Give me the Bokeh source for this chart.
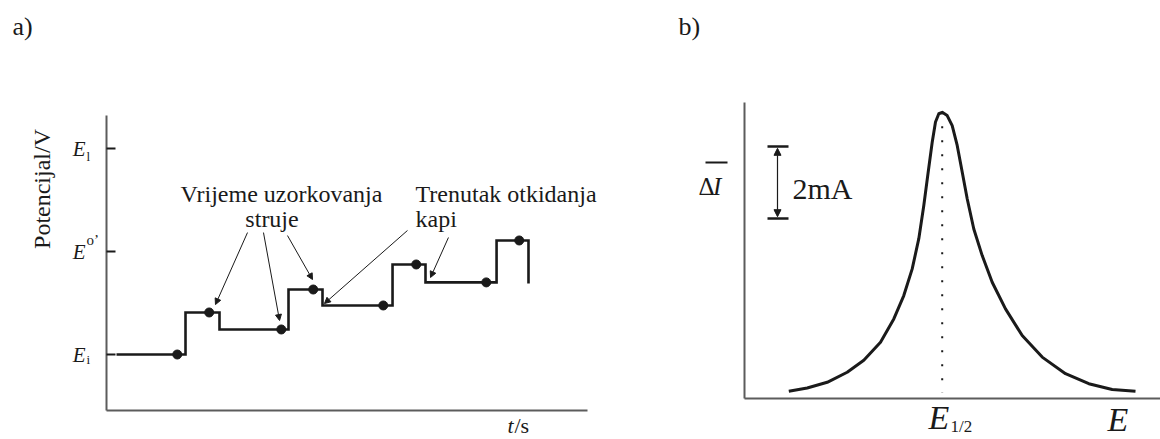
import math
from bokeh.plotting import figure
from bokeh.layouts import row
from bokeh.models import Label, Arrow, NormalHead, FixedTicker
from bokeh.embed import file_html
from bokeh.resources import INLINE

# ---------------- data: panel a (potential staircase vs time) ----------------
drop_times = [1, 2, 3, 4]                 # drop detachment times (periods)
pulse_starts = [0.67, 1.67, 2.68, 3.69]   # start of each pulse
base_levels = [0.0, 0.243, 0.476, 0.70]   # staircase potential (E_i = 0, E0' = 1, E_l = 2)
pulse_levels = [0.408, 0.631, 0.874, 1.107]
end_level = 0.69
sample_base_t = [0.59, 1.60, 2.59, 3.59]   # current sampling before pulse
sample_pulse_t = [0.90, 1.91, 2.91, 3.91]  # current sampling at end of pulse
potential_ticks = [0, 1, 2]
potential_tick_labels = ["E", "E", "E"]
potential_tick_subs = ["i", "o\u2019", "l"]
t_axis = (-0.097, 4.573)
E_axis = (-0.544, 2.320)

# ---------------- data: panel b (differential pulse peak) ----------------
E_mV = [-153.4, -135, -115, -95, -78.4, -61.7, -48.4, -38.4, -30, -23.4, -18.4, -14,
        -10, -6.7, -3.4, 0, 5, 10, 15, 20, 25, 31.6, 40, 50, 63.3, 80, 100, 123.3,
        146.6, 170, 193.3]
dI_mA = [0.20, 0.29, 0.45, 0.73, 1.06, 1.56, 2.21, 2.86, 3.60, 4.44, 5.36, 6.29,
         7.12, 7.68, 7.91, 7.95, 7.86, 7.58, 7.03, 6.29, 5.55, 4.71, 3.97, 3.23,
         2.49, 1.75, 1.15, 0.69, 0.41, 0.25, 0.20]
E_half = 0.0
scale_top, scale_bottom = 7.0, 5.0   # 2 mA scale bar
Eb_axis = (-197.7, 218.3)
I_axis = (0.0, 8.222)

SERIF = "Liberation Serif"
INK = "#1a1a1a"
AXIS = "#5c5c5c"
PX_A = 103.0   # pixels per data unit (y) in panel a
PX_B = 36.0    # pixels per data unit (y) in panel b


def lab(p, x, y, text, size, pxu, style="normal", align="left", baseline="alphabetic", angle=0.0):
    s = float(size.replace("px", ""))
    if baseline == "alphabetic":
        y = y + 0.35 * s / pxu   # compensate baseline placement
    p.add_layout(Label(x=x, y=y, text=text, text_font=SERIF, text_font_size=size,
                       text_font_style=style, text_color=INK, text_align=align,
                       text_baseline=baseline, angle=angle))


def make_fig(width, xr, yr, x_loc, y_loc, xb, yb):
    p = figure(width=width, height=439, x_range=xr, y_range=yr,
               output_backend="svg", toolbar_location=None,
               min_border_left=0, min_border_right=0, min_border_top=0, min_border_bottom=0)
    p.outline_line_color = None
    p.grid.visible = False
    p.background_fill_color = "white"
    p.border_fill_color = "white"
    p.xaxis.fixed_location = x_loc
    p.yaxis.fixed_location = y_loc
    p.xaxis.bounds = xb
    p.yaxis.bounds = yb
    for ax in (p.xaxis, p.yaxis):
        ax.axis_line_color = AXIS
        ax.axis_line_width = 2
        ax.minor_tick_line_color = None
        ax.ticker = FixedTicker(ticks=[])
    return p


# ---------------- panel a ----------------
pa = make_fig(640, (-1.1262, 5.0874), (-0.8252, 3.4369), E_axis[0], t_axis[0], t_axis, E_axis)
pa.yaxis.ticker = FixedTicker(ticks=potential_ticks)
pa.yaxis.major_label_overrides = dict(zip(potential_ticks, potential_tick_labels))
pa.yaxis.major_label_text_font = SERIF
pa.yaxis.major_label_text_font_style = "italic"
pa.yaxis.major_label_text_font_size = "21px"
pa.yaxis.major_label_text_color = INK
pa.yaxis.major_label_standoff = 21
pa.yaxis.major_tick_in = 9
pa.yaxis.major_tick_out = 0
pa.yaxis.major_tick_line_width = 2
pa.yaxis.major_tick_line_color = INK

xs = [0.0]
ys = [base_levels[0]]
for k in range(len(drop_times)):
    nxt = base_levels[k + 1] if k + 1 < len(base_levels) else end_level
    xs += [pulse_starts[k], pulse_starts[k], drop_times[k], drop_times[k]]
    ys += [base_levels[k], pulse_levels[k], pulse_levels[k], nxt]
pa.line(xs, ys, line_color=INK, line_width=2.6, line_join="miter")
pa.scatter(sample_base_t + sample_pulse_t, base_levels + pulse_levels, size=9,
           fill_color=INK, line_color=INK)

# annotation arrows (tail -> head, data units)
arrows_a = [((1.272, 1.184), (0.961, 0.485)),
            ((1.427, 1.184), (1.583, 0.330)),
            ((1.660, 1.155), (1.903, 0.728)),
            ((2.825, 1.204), (2.019, 0.495)),
            ((3.223, 1.136), (3.049, 0.748))]
for (x0, y0), (x1, y1) in arrows_a:
    pa.add_layout(Arrow(x_start=x0, y_start=y0, x_end=x1, y_end=y1, line_width=1,
                        line_color=INK,
                        end=NormalHead(size=6, fill_color=INK, line_color=INK, line_width=1)))

lab(pa, -1.01, 3.097, "a)", "26px", PX_A)
lab(pa, -0.728, 1.607, "Potencijal/V", "24px", PX_A, align="center", baseline="middle",
    angle=math.pi / 2)
# tick sub/superscripts (relative to the tick-centred "E")
sub_pos = {0: -0.097, 1: 1.058, 2: 1.883}
for t, s in zip(potential_ticks, potential_tick_subs):
    lab(pa, -0.291, sub_pos[t], s, "15px" if t == 1 else "13px", PX_A)
# annotation texts
lab(pa, 1.602, 1.476, "Vrijeme uzorkovanja", "24px", PX_A, align="center")
lab(pa, 1.510, 1.233, "struje", "24px", PX_A, align="center")
lab(pa, 2.903, 1.476, "Trenutak otkidanja", "24px", PX_A)
lab(pa, 2.903, 1.233, "kapi", "24px", PX_A)
lab(pa, 3.796, -0.767, "t", "22px", PX_A, style="italic")
lab(pa, 3.864, -0.767, "/s", "22px", PX_A)

# ---------------- panel b ----------------
pb = make_fig(520, (-301.7, 218.3), (-1.139, 11.056), I_axis[0], Eb_axis[0], Eb_axis, I_axis)

pb.line([E_half, E_half], [max(dI_mA), min(dI_mA) - 0.03], line_color=INK, line_width=2,
        line_dash="2 12")
pb.line(E_mV, dI_mA, line_color=INK, line_width=3, line_join="round")

# scale bar
pb.segment(x0=[-174.7, -174.7], y0=[scale_top, scale_bottom], x1=[-153.7, -153.7],
           y1=[scale_top, scale_bottom], line_color=INK, line_width=2.7)
pb.add_layout(Arrow(x_start=-164.7, y_start=scale_bottom + 0.05, x_end=-164.7,
                    y_end=scale_top - 0.05, line_width=1.2, line_color=INK,
                    start=NormalHead(size=7, fill_color=INK, line_color=INK, line_width=1),
                    end=NormalHead(size=7, fill_color=INK, line_color=INK, line_width=1)))
lab(pb, -149.7, 5.847, "2mA", "30px", PX_B, baseline="middle")

# y label: overlined Delta I
lab(pb, -243.7, 5.639, "\u0394", "25px", PX_B)
lab(pb, -229.2, 5.639, "I", "25px", PX_B, style="italic")
pb.segment(x0=[-236.7], y0=[6.556], x1=[-214.7], y1=[6.556], line_color=INK, line_width=2)

lab(pb, -263.7, 10.08, "b)", "26px", PX_B)
lab(pb, -13.7, -0.861, "E", "34px", PX_B, style="italic")
lab(pb, 8.3, -0.944, "1/2", "17px", PX_B)
lab(pb, 165.3, -0.917, "E", "34px", PX_B, style="italic")

layout = row(pa, pb)
open("out.html", "w").write(file_html(layout, INLINE))
